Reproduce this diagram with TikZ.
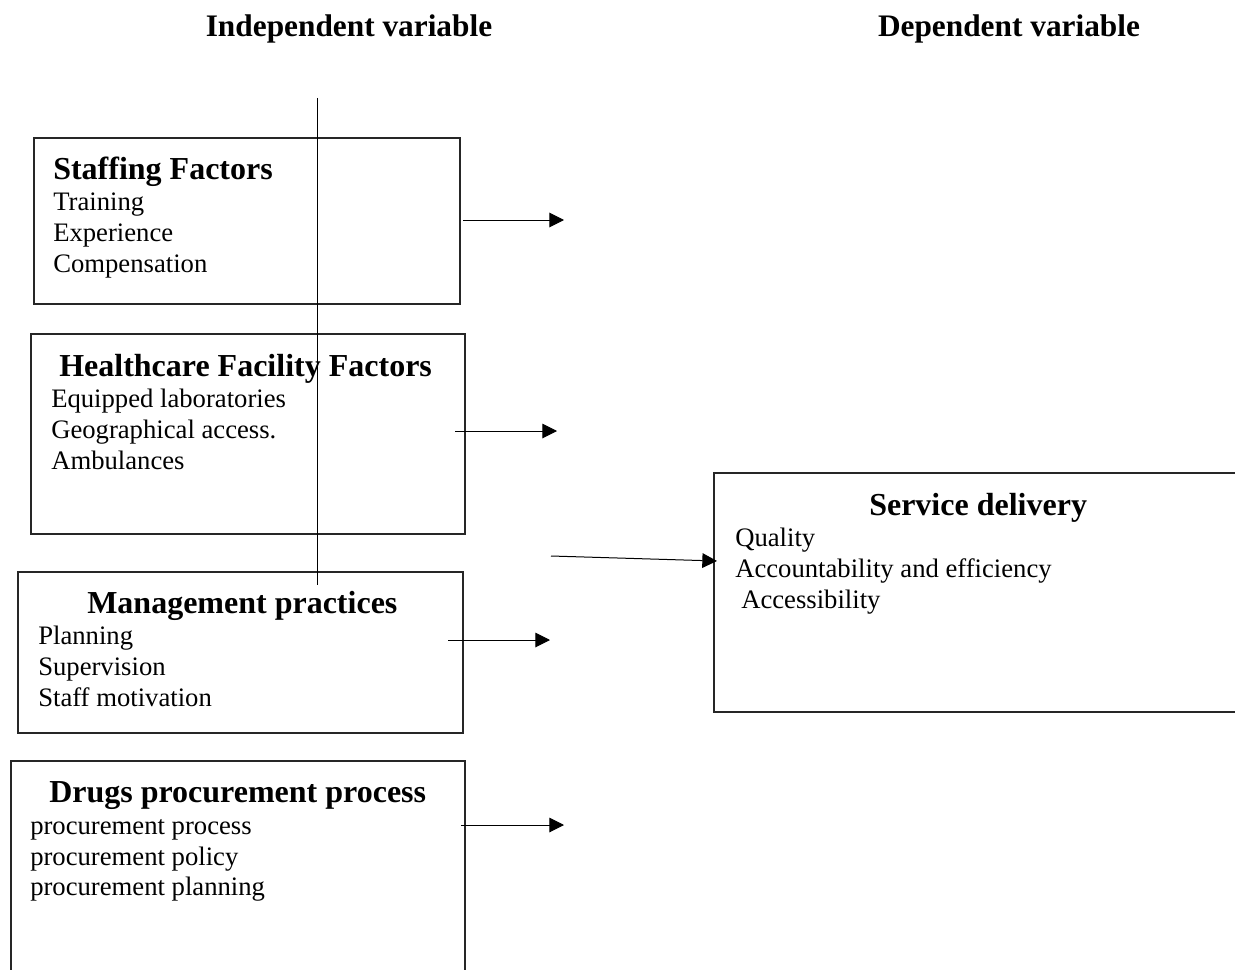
\documentclass[tikz,border=0pt]{standalone}
\usepackage{fontspec}
\setmainfont{Liberation Serif}
\usetikzlibrary{arrows.meta,fit}
\begin{document}
\begin{tikzpicture}[x=0.75pt,y=-0.75pt,
  box/.style={draw=black!85, line width=1pt, inner sep=0pt, rectangle},
  head/.style={font=\fontsize{24}{28}\selectfont\bfseries, anchor=base west, inner sep=0pt},
  title/.style={font=\fontsize{23.5}{28}\selectfont\bfseries, anchor=base, inner sep=0pt},
  item/.style={font=\fontsize{20}{23}\selectfont, anchor=base west, inner sep=0pt},
  arr/.style={line width=0.75pt, -{Triangle[length=11pt,width=11pt]}},
  plain/.style={line width=0.75pt}
]
\useasboundingbox (0,0) rectangle (1235,970);
\clip (0,0) rectangle (1235,970);

% titles
\node[title] (ti) at (349,37) {Independent variable};
\node[title] (td) at (1009,37) {Dependent variable};

% boxes
\node[box, fit={(34,138)(460,304)}] (sf) {};
\node[box, fit={(31,334)(465,534)}] (hf) {};
\node[box, fit={(18,572)(463,733)}] (mp) {};
\node[box, fit={(11,761)(465,1000)}] (dp) {};
\node[box, fit={(714,473)(1260,712)}] (sd) {};

% staffing
\node[head] (sfh) at (53,180) {Staffing Factors};
\node[item] (sf1) at (53,210) {Training};
\node[item] (sf2) at (53,241) {Experience};
\node[item] (sf3) at (53,272) {Compensation};

% healthcare
\node[head] (hfh) at (59,376) {Healthcare Facility Factors};
\node[item] (hf1) at (51,407) {Equipped laboratories};
\node[item] (hf2) at (51,438) {Geographical access.};
\node[item] (hf3) at (51,469) {Ambulances};

% management
\node[head] (mph) at (87,613) {Management practices};
\node[item] (mp1) at (38,644) {Planning};
\node[item] (mp2) at (38,675) {Supervision};
\node[item] (mp3) at (38,706) {Staff motivation};

% drugs
\node[head] (dph) at (49,802) {Drugs procurement process};
\node[item] (dp1) at (30,834) {procurement process};
\node[item] (dp2) at (30,865) {procurement policy};
\node[item] (dp3) at (30,895) {procurement planning};

% service delivery
\node[head] (sdh) at (869,515) {Service delivery};
\node[item] (sd1) at (735,546) {Quality};
\node[item] (sd2) at (735,577) {Accountability and efficiency};
\node[item] (sd3) at (741,608) {Accessibility};

% vertical line
\coordinate (vt) at (317,98);
\coordinate (vb) at (317,585);
\draw[plain] (vt) -- (vb);

% arrows
\coordinate (a1s) at (463,220); \coordinate (a1e) at (564,220);
\coordinate (a2s) at (455,431); \coordinate (a2e) at (557,431);
\coordinate (a3s) at (448,640); \coordinate (a3e) at (550,640);
\coordinate (a4s) at (461,825); \coordinate (a4e) at (564,825);
\coordinate (a5s) at (551,556); \coordinate (a5e) at (717,561);
\draw[arr] (a1s) -- (a1e);
\draw[arr] (a2s) -- (a2e);
\draw[arr] (a3s) -- (a3e);
\draw[arr] (a4s) -- (a4e);
\draw[arr] (a5s) -- (a5e);
\end{tikzpicture}
\end{document}
